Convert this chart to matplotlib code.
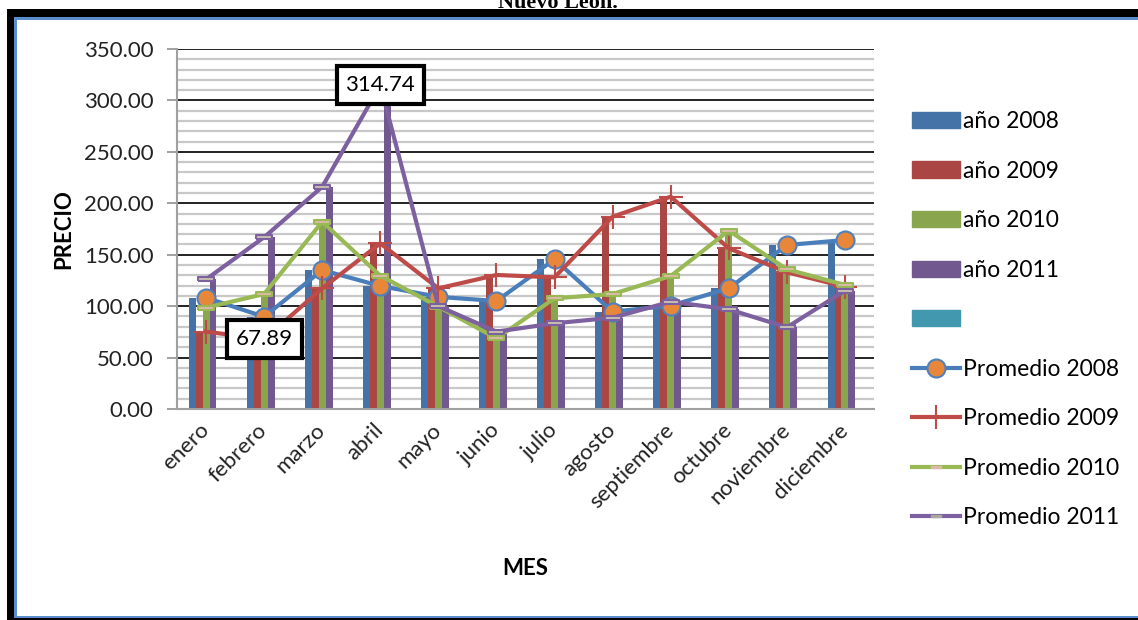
import numpy as np
import matplotlib.pyplot as plt
from matplotlib.patches import Rectangle, Patch
from matplotlib.lines import Line2D

plt.rcParams['font.family'] = ['Lato', 'DejaVu Sans']

meses = ['enero', 'febrero', 'marzo', 'abril', 'mayo', 'junio', 'julio',
         'agosto', 'septiembre', 'octubre', 'noviembre', 'diciembre']
anio_2008 = [108.2, 89.7, 135.0, 119.6, 109.0, 105.0, 145.5, 94.6, 100.5, 117.3, 159.4, 164.3]
anio_2009 = [75.2, 67.89, 117.3, 161.0, 117.3, 130.3, 128.0, 187.0, 206.4, 156.2, 132.9, 118.9]
anio_2010 = [98.5, 111.8, 182.0, 129.6, 99.5, 68.7, 107.6, 111.8, 129.3, 173.4, 135.8, 120.6]
anio_2011 = [126.0, 167.0, 216.0, 314.74, 100.0, 75.2, 83.3, 88.8, 104.3, 96.9, 79.4, 115.0]

bar_cols = ['#4572a7', '#aa4643', '#89a54e', '#71588f', '#4198af']
line_cols = ['#4a7ebb', '#be4b48', '#98b954', '#7d60a0']
dash = [(-1, -0.28), (1, -0.28), (1, 0.28), (-1, 0.28), (-1, -0.28)]

W, H = 1138, 620
fig = plt.figure(figsize=(W / 100, H / 100), dpi=100)
ax = fig.add_axes([177 / W, 1 - 409 / H, 697 / W, 360 / H])

x = np.arange(len(meses))
w = 0.12
series = [anio_2008, anio_2009, anio_2010, anio_2011]
for i, s in enumerate(series):
    ax.bar(x + (i - 2) * w, s, width=w, color=bar_cols[i], zorder=2)

# lineas de promedio
ax.plot(x, anio_2008, color=line_cols[0], lw=3, marker='o', ms=13,
        mfc='#e8873a', mec='#4f81bd', mew=1.5, zorder=3)
ax.plot(x, anio_2009, color=line_cols[1], lw=3, marker='+', ms=17,
        mew=1.5, zorder=4)
ax.plot(x, anio_2010, color=line_cols[2], lw=3, marker=dash, ms=12,
        mfc='#dcb8a8', mec=line_cols[2], mew=1.5, zorder=5)
ax.plot(x, anio_2011, color=line_cols[3], lw=3, marker=dash, ms=12,
        mfc='#c8c0b0', mec=line_cols[3], mew=1.5, zorder=6)

for xi, v in [(3, anio_2011[3]), (1, anio_2009[1])]:
    ax.text(xi, v, f'{v:.2f}', ha='center', va='center', fontsize=16, zorder=10,
            bbox=dict(boxstyle='square,pad=0.4', fc='white', ec='black', lw=3))

ax.set_xlim(-0.5, 11.5)
ax.set_ylim(0, 350)
ax.set_yticks(np.arange(0, 351, 50))
ax.set_yticks(np.arange(0, 351, 10), minor=True)
ax.set_yticklabels([f'{v:.2f}' for v in np.arange(0, 351, 50)], fontsize=16, color='#222222')
ax.tick_params(axis='y', which='major', length=7, color='#909090', width=1.2, pad=10)
ax.tick_params(axis='y', which='minor', length=0)
ax.set_xticks(x)
ax.set_xticklabels(meses, rotation=45, rotation_mode='anchor', ha='right', va='center',
                   fontsize=16, color='#222222')
ax.tick_params(axis='x', length=0, pad=13)
ax.grid(axis='y', which='major', color='#111111', lw=1.3)
ax.grid(axis='y', which='minor', color='#c8c8c8', lw=1.6)
ax.set_axisbelow(True)
for sp in ['top', 'right']:
    ax.spines[sp].set_visible(False)
for sp in ['left', 'bottom']:
    ax.spines[sp].set_color('#a0a0a0')
    ax.spines[sp].set_linewidth(1.5)

ax.set_xlabel('MES', fontsize=16, fontweight='bold')
ax.xaxis.set_label_coords(0.5, -0.415)
ax.set_ylabel('PRECIO', fontsize=16, fontweight='bold')
ax.yaxis.set_label_coords(-0.147, 0.5)

handles = [Patch(color=c) for c in bar_cols]
handles += [
    Line2D([], [], color=line_cols[0], lw=3, marker='o', ms=13, mfc='#e8873a', mec='#4f81bd', mew=1.5),
    Line2D([], [], color=line_cols[1], lw=3, marker='+', ms=17, mew=1.5),
    Line2D([], [], color=line_cols[2], lw=3, marker=dash, ms=7, mfc='#dcb8a8', mec='#dcb8a8', mew=1),
    Line2D([], [], color=line_cols[3], lw=3, marker=dash, ms=7, mfc='#a8a8a0', mec='#a8a8a0', mew=1),
]
labels = ['año 2008', 'año 2009', 'año 2010', 'año 2011', ' ',
          'Promedio 2008', 'Promedio 2009', 'Promedio 2010', 'Promedio 2011']
fig.legend(handles, labels, loc='upper left', bbox_to_anchor=(912 / W, 1 - 111 / H),
           frameon=False, fontsize=16.5, handlelength=2.1, handleheight=0.7,
           handletextpad=0.12, labelspacing=1.245, borderpad=0, borderaxespad=0)

fig.text(558 / W, 1 - 8 / H, 'Nuevo León.', ha='center', va='baseline',
         fontsize=16, fontweight='bold', family='Liberation Serif')

# marco del grafico
def frame(x0, y0, x1, y1, c):
    fig.add_artist(Rectangle((x0 / W, 1 - y1 / H), (x1 - x0) / W, (y1 - y0) / H,
                             transform=fig.transFigure, color=c, lw=0, zorder=20))

frame(7, 9, W, 17, 'black')
frame(7, 9, 14, H, 'black')
frame(7, 618, W, H, 'black')
frame(14, 17, W, 19.5, '#5b8ccc')
frame(14, 17, 16.5, 618, '#5b8ccc')
frame(14, 615.5, W, 618, '#5b8ccc')

fig.savefig('out.png', dpi=100)
